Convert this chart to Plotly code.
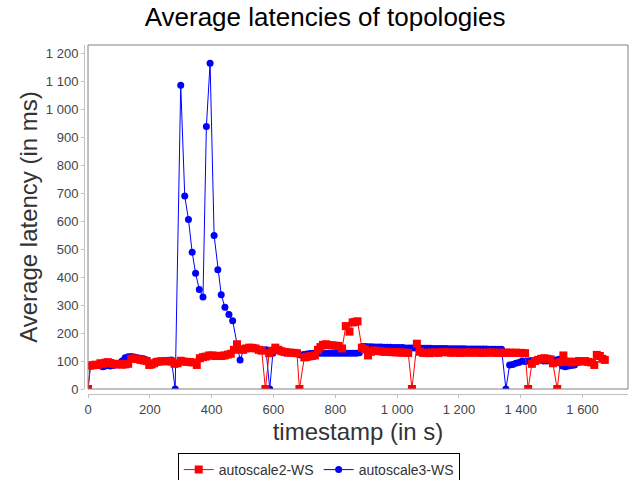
import plotly.graph_objects as go

# autoscale2-WS (red squares)
red_t = [0, 8, 16, 24, 32, 40, 48, 56, 64, 72, 80, 90, 100, 110, 120, 130, 140, 150, 160, 170,
         180, 190, 198, 206, 214, 222, 230, 240, 250, 260, 270, 280, 290, 300, 310, 320, 330, 340,
         352, 362, 372, 382, 392, 402, 412, 422, 432, 442, 452, 462, 472, 482, 492, 502, 512, 522,
         532, 542, 552, 562, 574, 586, 596, 606, 616, 626, 636, 646, 656, 666, 676, 684, 700, 708,
         716, 724, 734, 744, 752, 760, 770, 780, 790, 800, 810, 822, 834, 846, 856, 864, 872, 886,
         896, 906, 916, 926, 936, 946, 956, 966, 976, 986, 996, 1006, 1016, 1026, 1036, 1048, 1064,
         1074, 1084, 1094, 1104, 1114, 1124, 1134, 1144, 1154, 1164, 1174, 1184, 1194, 1204, 1214,
         1224, 1234, 1244, 1254, 1264, 1274, 1284, 1294, 1304, 1314, 1324, 1334, 1344, 1354, 1364,
         1374, 1384, 1394, 1404, 1414, 1424, 1436, 1446, 1456, 1466, 1476, 1486, 1496, 1504, 1518,
         1528, 1538, 1548, 1558, 1568, 1578, 1588, 1598, 1608, 1618, 1628, 1638, 1646, 1656, 1664,
         1672]
red_v = [0, 84, 85, 87, 86, 92, 90, 94, 96, 93, 90, 88, 90, 87, 88, 90, 108, 110, 107, 104,
         102, 100, 86, 88, 92, 97, 98, 99, 100, 99, 98, 90, 92, 101, 98, 97, 96, 95,
         86, 110, 114, 116, 120, 120, 118, 119, 118, 120, 123, 126, 140, 160, 142, 140, 145, 148,
         147, 145, 140, 137, 0, 128, 137, 148, 140, 135, 132, 130, 130, 129, 128, 0, 113, 115,
         117, 118, 120, 140, 150, 158, 160, 157, 156, 155, 154, 145, 225, 205, 238, 240, 242, 148,
         142, 120, 133, 138, 136, 135, 133, 133, 132, 132, 131, 131, 130, 130, 129, 0, 162,
         133, 129, 130, 128, 131, 130, 129, 132, 133, 131, 130, 130, 131, 129, 130,
         131, 130, 130, 131, 130, 129, 130, 130, 131, 130, 129, 130, 129, 130, 130,
         129, 130, 129, 129, 128, 0, 90, 100, 104, 108, 110, 108, 106, 92, 0,
         96, 120, 97, 98, 95, 97, 100, 98, 100, 97, 95, 86, 122, 118, 108,
         104]

# autoscale3-WS (blue circles)
blue_t = [0, 8, 16, 24, 32, 40, 48, 56, 64, 72, 80, 90, 100, 110, 120, 130, 140, 150, 160, 170,
          180, 190, 198, 206, 214, 222, 230, 240, 250, 260, 270, 282, 300, 313, 325, 337, 348, 360,
          372, 383, 395, 408, 420, 431, 443, 456, 468, 492, 504, 514, 524, 534, 544, 554, 564, 576,
          588, 598, 608, 618, 628, 638, 648, 658, 668, 678, 688, 698, 708, 718, 728, 738, 748, 758,
          768, 778, 788, 798, 808, 818, 828, 838, 848, 858, 868, 878, 888, 898, 908, 918, 928, 938,
          948, 958, 968, 978, 988, 998, 1008, 1018, 1028, 1038, 1048, 1058, 1068, 1078, 1088, 1098,
          1108, 1118, 1128, 1138, 1148, 1158, 1168, 1178, 1188, 1198, 1208, 1218, 1228, 1238, 1248,
          1258, 1268, 1278, 1288, 1298, 1308, 1318, 1328, 1338, 1352, 1364, 1374, 1384, 1394, 1404,
          1414, 1424, 1434, 1444, 1454, 1464, 1474, 1484, 1494, 1504, 1514, 1524, 1534, 1544, 1554,
          1564, 1574, 1584, 1594, 1604, 1612]
blue_v = [0, 82, 83, 84, 85, 83, 80, 82, 84, 82, 84, 86, 92, 100, 112, 115, 116, 114, 112, 110,
          108, 104, 92, 90, 95, 98, 100, 100, 101, 103, 104, 0, 1086, 690, 606, 489, 414, 356,
          329, 939, 1165, 549, 426, 337, 292, 266, 244, 104, 140, 145, 148, 147, 146, 142, 140, 140,
          0, 128, 138, 140, 136, 134, 132, 130, 128, 125, 122, 123, 125, 127, 128, 128, 128, 128,
          128, 128, 128, 128, 128, 128, 128, 128, 128, 128, 128, 130, 152, 152, 151, 151, 150, 150,
          150, 149, 149, 149, 148, 148, 148, 148, 147, 147, 147, 147, 146, 146, 146, 146,
          146, 145, 145, 145, 145, 145, 144, 144, 144, 144, 144, 144, 143, 143, 143,
          143, 143, 143, 143, 142, 142, 142, 142, 142, 0, 86, 88, 92, 95, 100,
          98, 100, 102, 100, 104, 104, 100, 100, 103, 105, 104, 106, 82, 80, 82,
          84, 86, 95, 97, 100, 98]

x_ticks = [0, 200, 400, 600, 800, 1000, 1200, 1400, 1600]
y_ticks = [0, 100, 200, 300, 400, 500, 600, 700, 800, 900, 1000, 1100, 1200]

FONT = "Liberation Sans, Arial, sans-serif"
AXIS_GREY = "#c0c0c0"

fig = go.Figure()
fig.add_trace(go.Scatter(
    x=blue_t, y=blue_v, name="autoscale3-WS", mode="lines+markers",
    line=dict(color="#0000FF", width=1),
    marker=dict(symbol="circle", size=7, color="#0000FF"),
    legendrank=2, cliponaxis=True,
))
fig.add_trace(go.Scatter(
    x=red_t, y=red_v, name="autoscale2-WS", mode="lines+markers",
    line=dict(color="#FF0000", width=1),
    marker=dict(symbol="square", size=8, color="#FF0000"),
    legendrank=1, cliponaxis=True,
))

# plot frame around the data area (JFreeChart style)
fig.add_shape(type="rect", xref="x domain", yref="y domain", x0=0, x1=1, y0=0, y1=1,
              line=dict(color="#808080", width=1), fillcolor="rgba(0,0,0,0)", layer="above")

fig.update_layout(
    width=640, height=480,
    paper_bgcolor="white", plot_bgcolor="white",
    margin=dict(l=84, r=12, t=45, b=86, autoexpand=False),
    separators=". ",
    font=dict(family=FONT, color="#444444"),
    title=dict(text="Average latencies of topologies", x=0.508, xanchor="center",
               y=1 - 8 / 480, yanchor="top", yref="container",
               font=dict(family=FONT, size=26, color="black")),
    showlegend=True,
    legend=dict(orientation="h", xref="container", yref="container",
                x=0.498, xanchor="center", y=1 - 453 / 480, yanchor="top",
                bordercolor="black", borderwidth=1, bgcolor="white",
                font=dict(family=FONT, size=14, color="#333333"),
                itemwidth=30, traceorder="normal", tracegroupgap=0),
    xaxis=dict(range=[0, 1747], domain=[4 / 544, 1], anchor="free", position=0,
               tickvals=x_ticks, separatethousands=True,
               showgrid=False, zeroline=False, showline=True, linecolor=AXIS_GREY,
               linewidth=1, ticks="outside", ticklen=3, tickcolor=AXIS_GREY,
               tickfont=dict(family=FONT, size=13, color="#444444"),
               title=dict(text="timestamp (in s)", standoff=7,
                          font=dict(family=FONT, size=24, color="#333333"))),
    yaxis=dict(range=[0, 1230], domain=[5 / 349, 1], anchor="free", position=0,
               tickvals=y_ticks, separatethousands=True,
               showgrid=False, zeroline=False, showline=True, linecolor=AXIS_GREY,
               linewidth=1, ticks="outside", ticklen=3, tickcolor=AXIS_GREY,
               tickfont=dict(family=FONT, size=13, color="#444444"),
               title=dict(text="Average latency (in ms)", standoff=0,
                          font=dict(family=FONT, size=24, color="#333333"))),
)

fig.write_html("out.html", config={"displayModeBar": False},
               post_script="document.body.style.margin='0';document.body.style.padding='0';")
